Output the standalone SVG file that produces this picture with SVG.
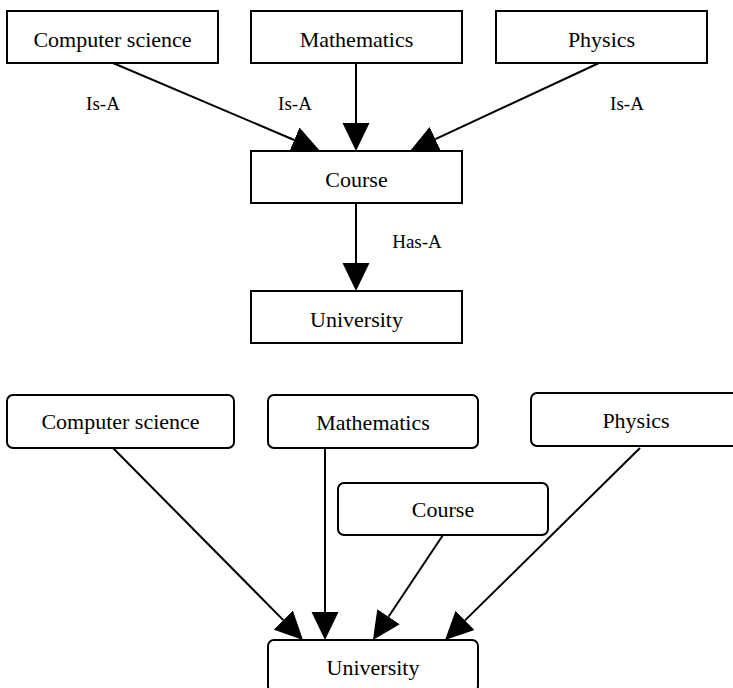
<svg xmlns="http://www.w3.org/2000/svg" width="733" height="688" viewBox="0 0 733 688">
<style>
.box{fill:#fff;stroke:#000;stroke-width:2}
.t{font-family:"Liberation Serif","Times New Roman",serif;font-size:22px;fill:#000;text-anchor:middle}
.l{font-family:"Liberation Serif","Times New Roman",serif;font-size:19px;fill:#000;text-anchor:middle}
.e{stroke:#000;stroke-width:2;fill:none;marker-end:url(#ah)}
</style>
<defs>
<marker id="ah" markerUnits="userSpaceOnUse" markerWidth="28" markerHeight="28" refX="0" refY="13.5" orient="auto" viewBox="0 0 28 27">
<path d="M0,0 L28,13.5 L0,27 Z" fill="#000"/>
</marker>
</defs>
<rect width="733" height="688" fill="#fff"/>
<g id="connectors">
<line class="e" x1="113" y1="63" x2="294.2" y2="140"/>
<line class="e" x1="356" y1="63" x2="356" y2="123"/>
<line class="e" x1="599" y1="63" x2="435.4" y2="139.2"/>
<line class="e" x1="356" y1="203" x2="356" y2="263"/>
<line class="e" x1="113" y1="448" x2="283.3" y2="620.1"/>
<line class="e" x1="325" y1="448" x2="325" y2="612"/>
<line class="e" x1="443" y1="535" x2="388.5" y2="616.7"/>
<line class="e" x1="640" y1="448" x2="465" y2="620.4"/>
</g>
<g id="labels">
<text class="l" x="103" y="110">Is-A</text>
<text class="l" x="295" y="110">Is-A</text>
<text class="l" x="627" y="110">Is-A</text>
<text class="l" x="417" y="248">Has-A</text>
</g>
<g id="top-cs"><rect class="box" x="7" y="11" width="211" height="52"/><text class="t" x="112.5" y="47">Computer science</text></g>
<g id="top-math"><rect class="box" x="251" y="11" width="211" height="52"/><text class="t" x="356.5" y="47">Mathematics</text></g>
<g id="top-phys"><rect class="box" x="496" y="11" width="211" height="52"/><text class="t" x="601.5" y="47">Physics</text></g>
<g id="top-course"><rect class="box" x="251" y="151" width="211" height="52"/><text class="t" x="356.5" y="187">Course</text></g>
<g id="top-univ"><rect class="box" x="251" y="291" width="211" height="52"/><text class="t" x="356.5" y="327">University</text></g>
<g id="bot-cs"><rect class="box" x="7" y="395" width="227" height="53" rx="6"/><text class="t" x="120.5" y="429">Computer science</text></g>
<g id="bot-math"><rect class="box" x="268" y="395" width="210" height="53" rx="6"/><text class="t" x="373" y="430">Mathematics</text></g>
<g id="bot-phys"><rect class="box" x="531" y="393" width="210" height="53" rx="6"/><text class="t" x="636" y="428">Physics</text></g>
<g id="bot-course"><rect class="box" x="338" y="483" width="210" height="52" rx="6"/><text class="t" x="443" y="517">Course</text></g>
<g id="bot-univ"><rect class="box" x="268" y="640" width="210" height="52" rx="6"/><text class="t" x="373" y="675">University</text></g>
</svg>
